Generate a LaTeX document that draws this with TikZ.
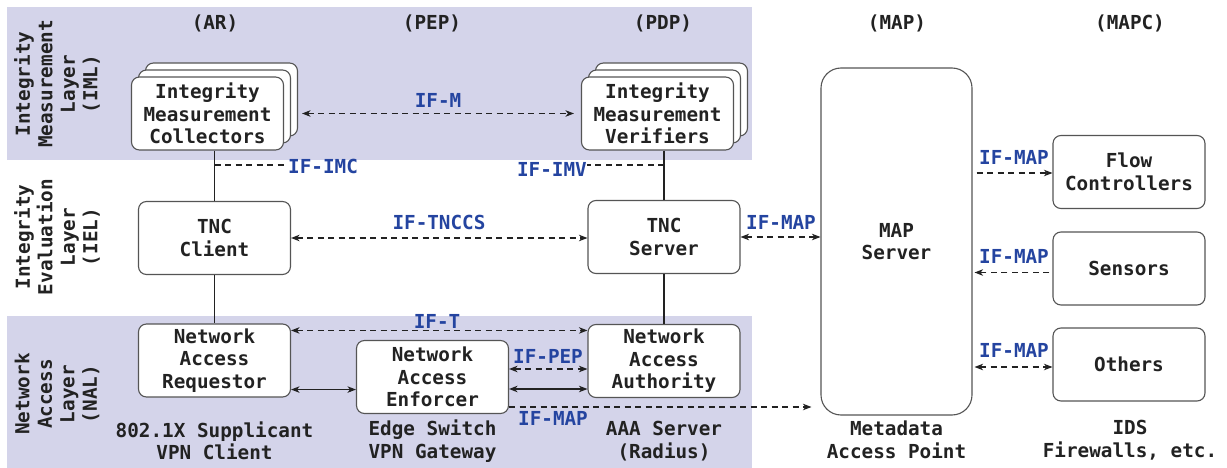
\documentclass[tikz,border=0pt]{standalone}
\usepackage{fontspec}
\newfontfamily\dmono{DejaVu Sans Mono}
\usetikzlibrary{arrows.meta}
\definecolor{band}{HTML}{D4D4EA}
\definecolor{ifblue}{HTML}{2444A0}
\definecolor{ink}{HTML}{222222}
\definecolor{edgegray}{HTML}{555555}
\begin{document}
\begin{tikzpicture}[x=1pt,y=-1pt,
  every node/.style={font=\dmono\bfseries\fontsize{19.3}{22.5}\selectfont, text=ink},
  box/.style={draw=edgegray, fill=white, line width=1.1pt, rounded corners=8pt,
    minimum width=152pt, minimum height=73pt, align=center, inner sep=0pt},
  iflab/.style={text=ifblue, inner sep=0pt},
  conn/.style={draw=ink, line width=1.1pt},
  dsh/.style={conn, dash pattern=on 6pt off 4.5pt},
  >={Stealth[length=8.5pt,width=6.5pt,inset=2.5pt]}]
\useasboundingbox (0,0) rectangle (1227,468);
\fill[white] (0,0) rectangle (1227,468);
% layer bands
\fill[band] (7,7) rectangle (752,160);
\fill[band] (7,316) rectangle (752,468);
% side labels
\node[rotate=90, align=center] (liml) at (57,84) {Integrity\\Measurement\\Layer\\(IML)};
\node[rotate=90, align=center] (liel) at (57,237) {Integrity\\Evaluation\\Layer\\(IEL)};
\node[rotate=90, align=center] (lnal) at (57,394) {Network\\Access\\Layer\\(NAL)};
% headers
\node (har) at (215,23) {(AR)};
\node (hpep) at (432,23) {(PEP)};
\node (hpdp) at (663,23) {(PDP)};
\node (hmap) at (897,23) {(MAP)};
\node (hmapc) at (1130,23) {(MAPC)};
% stacked boxes
\node[box] (imcb) at (221.5,99.5) {};
\node[box] (imca) at (214.5,106.5) {};
\node[box] (imc) at (207.5,113.5) {Integrity\\Measurement\\Collectors};
\node[box] (imvb) at (671.5,99.5) {};
\node[box] (imva) at (664.5,106.5) {};
\node[box] (imv) at (657.5,113.5) {Integrity\\Measurement\\Verifiers};
% boxes
\node[box] (tncc) at (214.5,238) {TNC\\Client};
\node[box] (tncs) at (664,237) {TNC\\Server};
\node[box] (nar) at (214.5,360.5) {Network\\Access\\Requestor};
\node[box] (nae) at (432.5,377) {Network\\Access\\Enforcer};
\node[box] (naa) at (664,361) {Network\\Access\\Authority};
\node[box, minimum width=151pt, minimum height=347pt, rounded corners=20pt] (map) at (896.5,241.5) {MAP\\Server};
\node[box] (flow) at (1129,172) {Flow\\Controllers};
\node[box] (sens) at (1129,268.5) {Sensors};
\node[box] (oth) at (1129,364.5) {Others};
% bottom labels
\node[align=center] (bar) at (214.5,441) {802.1X Supplicant\\VPN Client};
\node[align=center] (bpep) at (432.5,441) {Edge Switch\\VPN Gateway};
\node[align=center] (bpdp) at (664,441) {AAA Server\\(Radius)};
\node[align=center] (bmap) at (896.5,440) {Metadata\\Access Point};
\node[align=center] (bmapc) at (1130,440) {IDS\\Firewalls, etc.};
% vertical solid links
\draw[conn] (imc.south -| tncc.north) -- (tncc.north);
\draw[conn] (tncc.south) -- (nar.north);
\draw[conn] (imv.south -| tncs.north) -- (tncs.north);
\draw[conn] (tncs.south) -- (naa.north);
% IF-IMC / IF-IMV
\coordinate (imcj) at (214.5,165);
\node[iflab, anchor=west] (ifimc) at (288,166) {IF-IMC};
\draw[dsh] (imcj) -- (imcj -| ifimc.west);
\coordinate (imvj) at (664,165);
\node[iflab, anchor=east] (ifimv) at (587,169) {IF-IMV};
\draw[dsh] (imvj) -- (imvj -| ifimv.east);
% IF-M
\draw[dsh, <->, shorten <=4pt, shorten >=7pt] (imc.east -| imcb.east) -- (imc.east -| imv.west);
\node[iflab] (ifm) at (438,100) {IF-M};
% IF-TNCCS
\draw[dsh, <->] (tncc.east) -- (tncc.east -| tncs.west);
\node[iflab] (iftnccs) at (439,222) {IF-TNCCS};
% IF-MAP from TNC server
\draw[dsh, <->] (tncs.east) -- (tncs.east -| map.west);
\node[iflab] (ifmap1) at (781,222) {IF-MAP};
% IF-T
\draw[dsh, <->] ([yshift=-7pt]nar.north east) -- ([yshift=-7pt]nar.north east -| naa.west);
\node[iflab] (ift) at (437,321) {IF-T};
% NAR <-> NAE
\draw[conn, <->] ([yshift=8pt]nar.south east) -- ([yshift=8pt]nar.south east -| nae.west);
% NAE <-> NAA
\draw[dsh, <->] ([yshift=8pt]nae.east) -- ([yshift=8pt]nae.east -| naa.west);
\node[iflab] (ifpep) at (548,356) {IF-PEP};
\draw[conn, <->] ([yshift=-12pt]nae.east) -- ([yshift=-12pt]nae.east -| naa.west);
% IF-MAP from NAE
\draw[dsh, ->, shorten >=9pt] ([yshift=-30pt]nae.east) -- ([yshift=-30pt]nae.east -| map.west);
\node[iflab] (ifmap2) at (553,418) {IF-MAP};
% right side IF-MAP
\draw[dsh, ->, shorten <=4pt] ([yshift=-1pt]flow.west -| map.east) -- ([yshift=-1pt]flow.west);
\node[iflab] (ifmap3) at (1014,157) {IF-MAP};
\draw[dsh, ->, shorten <=3pt, shorten >=2pt] ([yshift=-4pt]sens.west) -- ([yshift=-4pt]sens.west -| map.east);
\node[iflab] (ifmap4) at (1014,256) {IF-MAP};
\draw[dsh, <->, shorten <=2pt] ([yshift=-2.5pt]oth.west -| map.east) -- ([yshift=-2.5pt]oth.west);
\node[iflab] (ifmap5) at (1014,350) {IF-MAP};
\end{tikzpicture}
\end{document}
